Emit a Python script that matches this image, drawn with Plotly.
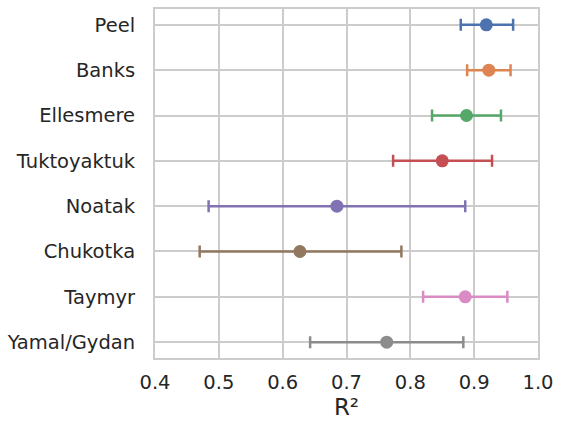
import plotly.graph_objects as go

regions = ["Peel", "Banks", "Ellesmere", "Tuktoyaktuk", "Noatak", "Chukotka", "Taymyr", "Yamal/Gydan"]
r2_mean = [0.919, 0.923, 0.888, 0.850, 0.685, 0.627, 0.886, 0.763]
r2_low = [0.879, 0.889, 0.834, 0.773, 0.484, 0.470, 0.820, 0.643]
r2_high = [0.961, 0.957, 0.942, 0.928, 0.886, 0.786, 0.952, 0.883]
colors = ["#4C72B0", "#DD8452", "#55A868", "#C44E52", "#8172B3", "#937860", "#DA8BC3", "#8C8C8C"]
x_ticks = [0.4, 0.5, 0.6, 0.7, 0.8, 0.9, 1.0]

fig = go.Figure()
for name, m, lo, hi, c in zip(regions, r2_mean, r2_low, r2_high, colors):
    fig.add_trace(go.Scatter(
        x=[m], y=[name], mode="markers",
        marker=dict(color=c, size=13),
        error_x=dict(type="data", symmetric=False, array=[hi - m], arrayminus=[m - lo],
                     color=c, thickness=2.5, width=6),
        showlegend=False,
    ))

fig.update_layout(
    width=561, height=422,
    margin=dict(l=155, r=19, t=7, b=62),
    paper_bgcolor="white", plot_bgcolor="white",
    font=dict(family="DejaVu Sans", size=19.5, color="#262626"),
    xaxis=dict(range=[0.4, 1.0], tickvals=x_ticks, ticktext=[f"{v:.1f}" for v in x_ticks],
               showgrid=True, gridcolor="#cccccc", gridwidth=1.5,
               showline=True, mirror=True, linecolor="#cccccc", linewidth=2,
               zeroline=False, ticks="", ticklabelstandoff=6,
               title=dict(text="R²", standoff=4)),
    yaxis=dict(type="category", categoryorder="array", categoryarray=regions,
               range=[7.35, -0.35], showgrid=True, gridcolor="#cccccc", gridwidth=1.5,
               showline=True, mirror=True, linecolor="#cccccc", linewidth=2,
               ticks="", ticklabelstandoff=14),
)
fig.write_html("out.html", config={"displayModeBar": False},
               post_script="document.body.style.margin='0';document.body.style.overflow='hidden';")
